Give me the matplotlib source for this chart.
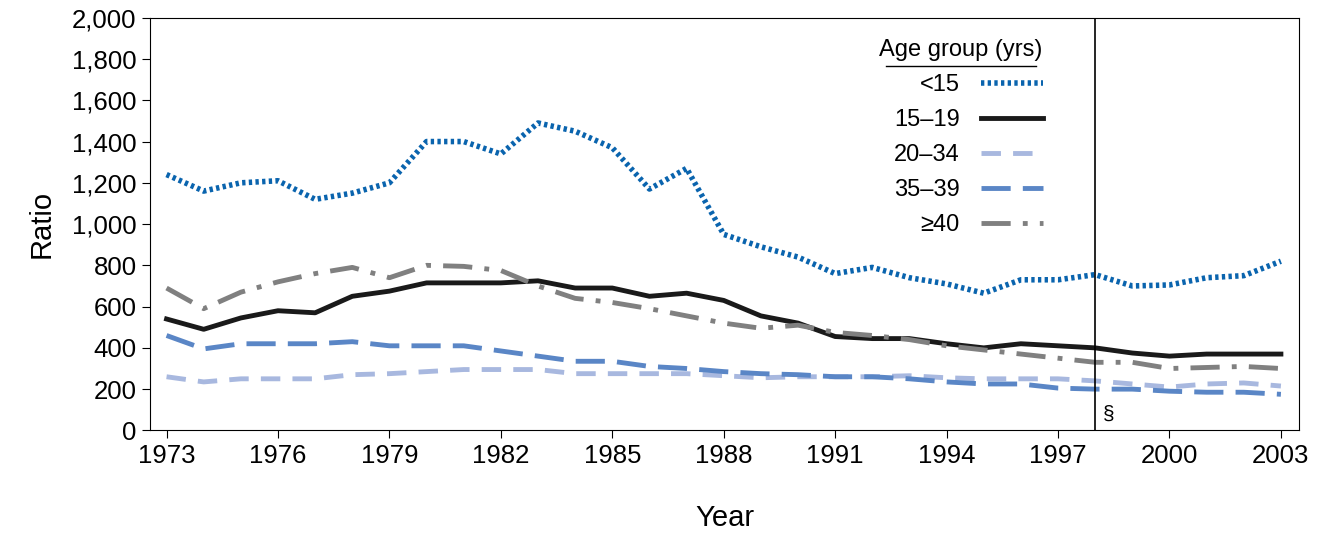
import matplotlib.pyplot as plt
import numpy as np

years = list(range(1973, 2004))
under15 = [1240, 1160, 1200, 1210, 1120, 1150, 1200, 1400, 1400, 1340, 1490, 1450, 1370, 1170, 1270,
           950, 890, 840, 760, 790, 740, 710, 665, 730, 730, 755, 700, 705, 740, 750, 820]
age15_19 = [540, 490, 545, 580, 570, 650, 675, 715, 715, 715, 725, 690, 690, 650, 665, 630, 555, 520,
            455, 445, 445, 420, 400, 420, 410, 400, 375, 360, 370, 370, 370]
age20_34 = [260, 235, 250, 250, 250, 270, 275, 285, 295, 295, 295, 275, 275, 275, 275, 265, 255, 260,
            260, 260, 265, 255, 250, 250, 250, 240, 225, 210, 225, 230, 215]
age35_39 = [460, 395, 420, 420, 420, 430, 410, 410, 410, 385, 360, 335, 335, 310, 300, 285, 275, 270,
            260, 260, 250, 235, 225, 225, 205, 200, 200, 190, 185, 185, 175]
age40 = [690, 590, 670, 720, 760, 790, 740, 800, 795, 775, 700, 640, 620, 590, 555, 520, 495, 510,
         475, 460, 440, 410, 390, 370, 350, 330, 330, 300, 305, 310, 300]

plt.rcParams['font.family'] = ['Liberation Sans', 'DejaVu Sans']
fig = plt.figure(figsize=(13.26, 5.38), dpi=100)
ax = fig.add_axes([0.113, 0.2, 0.867, 0.767])

ax.plot(years, under15, color="#0a64ae", lw=4, linestyle=(0, (0.6, 0.6)), label="<15")
ax.plot(years, age15_19, color="#1a1a1a", lw=3.5, label="15\u201319")
ax.plot(years, age20_34, color="#a8b8df", lw=3.5, linestyle=(0, (4, 2.5)), label="20\u201334")
ax.plot(years, age35_39, color="#5a86c6", lw=3.5, linestyle=(0, (6, 2.5)), label="35\u201339")
ax.plot(years, age40, color="#808080", lw=3.5, linestyle=(0, (6, 2.5, 1, 2.5)), label="\u226540")

ax.axvline(1998, color="black", lw=1.2)
ax.text(1998.2, 50, "\u00a7", fontsize=15)

ax.set_xlim(1972.55, 2003.5)
ax.set_ylim(0, 2000)
ax.set_xticks(range(1973, 2004, 3))
ax.set_yticks(range(0, 2001, 200))
ax.set_yticklabels([f"{v:,}" for v in range(0, 2001, 200)])
ax.tick_params(labelsize=18.5, direction="out", length=6)
ax.set_xlabel("Year", fontsize=21, labelpad=26)
ax.set_ylabel("Ratio", fontsize=21, labelpad=12)

leg = ax.legend(loc="upper right", bbox_to_anchor=(0.795, 1.0), frameon=False, fontsize=17,
                markerfirst=False, handlelength=2.6, handletextpad=0.9, title="Age group (yrs)",
                title_fontsize=17, labelspacing=0.55)
leg._legend_box.align = "right"
fig.lines.append(plt.Line2D([0.668, 0.781], [0.877, 0.877], color="black", lw=1, transform=fig.transFigure))

fig.savefig("out.png")
